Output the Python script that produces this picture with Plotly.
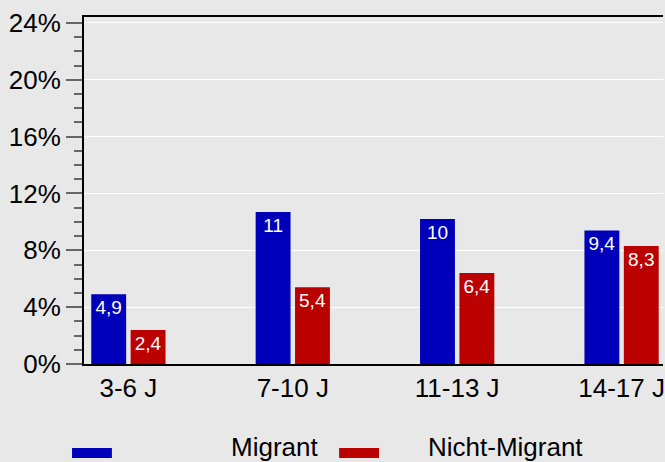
import plotly.graph_objects as go

categories = ["3-6 J", "7-10 J", "11-13 J", "14-17 J"]
series_names = ["Migrant", "Nicht-Migrant"]
migrant = [4.9, 10.7, 10.2, 9.4]
nicht_migrant = [2.4, 5.4, 6.4, 8.3]
colors = ["#0000bb", "#bb0000"]

def fmt(v):
    return f"{v:.2g}".replace(".", ",")

FONT = "Arial, Liberation Sans, sans-serif"
BG = "#e8e8e8"
W, H = 665, 462
ML, MR, MT, MB = 84, 0, 17, 98
PW, PH = W - ML - MR, H - MT - MB

def px(x):
    return (x - ML) / PW

def py(y):
    return (H - MB - y) / PH

fig = go.Figure()
for name, vals, col in zip(series_names, [migrant, nicht_migrant], colors):
    fig.add_trace(go.Bar(
        x=categories, y=vals, name=name,
        marker=dict(color=col, line=dict(width=0)),
        text=[fmt(v) for v in vals],
        textposition="inside", insidetextanchor="end", textangle=0,
        textfont=dict(color="white", size=19, family=FONT),
        showlegend=False, hoverinfo="skip",
    ))

# manual legend
legend_items = [(72, 229), (340, 427)]
for (sx, tx), name, col in zip(legend_items, series_names, colors):
    fig.add_shape(type="rect", xref="paper", yref="paper",
                  x0=px(sx), x1=px(sx + 40), y0=py(458), y1=py(448),
                  fillcolor=col, line=dict(width=0))
    fig.add_annotation(xref="paper", yref="paper", x=px(tx), y=py(447.5),
                       xanchor="left", yanchor="middle", text=name, showarrow=False,
                       font=dict(size=26, color="black", family=FONT))

fig.update_layout(
    width=W, height=H,
    margin=dict(l=ML, r=MR, t=MT, b=MB, pad=0),
    paper_bgcolor=BG, plot_bgcolor=BG,
    barmode="group", bargap=0.521, bargroupgap=0.114,
    font=dict(family=FONT, size=26, color="black"),
    xaxis=dict(
        range=[-0.27, 3.252], showline=True, mirror=True,
        linecolor="black", linewidth=2, ticks="", showgrid=False,
        tickfont=dict(size=26),
    ),
    yaxis=dict(
        range=[0, 24.42], dtick=4, ticksuffix="%",
        showline=True, linecolor="black", linewidth=2,
        gridcolor="white", gridwidth=1, zeroline=False,
        ticks="outside", ticklen=16, tickwidth=2, tickcolor="#666666",
        minor=dict(dtick=1, ticks="outside", ticklen=8, tickwidth=2,
                   tickcolor="#666666", showgrid=False),
        tickfont=dict(size=26),
    ),
)

fig.write_html(
    "out.html",
    config={"displayModeBar": False},
    post_script="document.body.style.margin='0';document.body.style.padding='0';"
                "document.body.style.overflow='hidden';",
)
